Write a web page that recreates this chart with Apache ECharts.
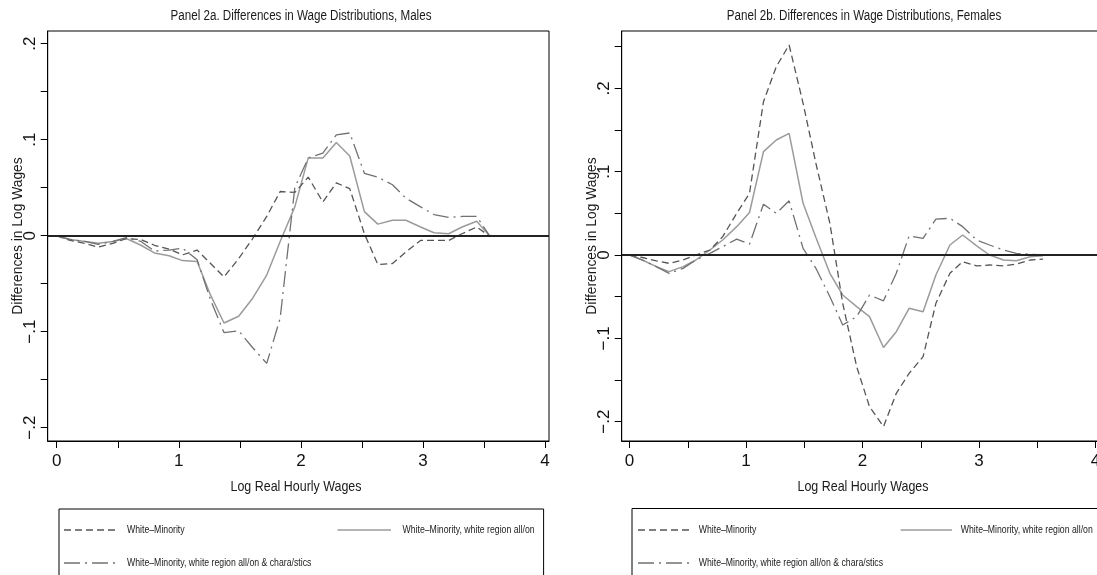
<!DOCTYPE html>
<html><head><meta charset="utf-8">
<script src="https://cdn.jsdelivr.net/npm/echarts@6.0.0/dist/echarts.min.js"></script>
<style>html,body{margin:0;padding:0;background:#fff}#c{width:1097px;height:575px}</style>
</head><body><div id="c"></div>
<script>
// ---- data ----
const xWage = [0.00,0.11,0.23,0.34,0.46,0.57,0.69,0.80,0.92,1.03,1.15,1.26,1.37,1.49,1.60,1.72,1.83,1.95,2.06,2.18,2.29,2.40,2.52,2.63,2.75,2.86,2.98,3.09,3.21,3.32,3.44,3.55];
const maleWhiteMinority = [0,-0.005,-0.008,-0.012,-0.008,-0.003,-0.004,-0.010,-0.014,-0.020,-0.015,-0.029,-0.043,-0.024,-0.004,0.020,0.046,0.045,0.061,0.035,0.055,0.049,0.002,-0.030,-0.029,-0.017,-0.005,-0.005,-0.005,0.002,0.009,-0.001];
const maleRegion = [0,-0.004,-0.006,-0.008,-0.006,-0.003,-0.010,-0.018,-0.021,-0.026,-0.027,-0.062,-0.091,-0.084,-0.066,-0.041,-0.006,0.030,0.081,0.081,0.097,0.083,0.025,0.012,0.016,0.016,0.009,0.003,0.002,0.009,0.015,-0.001];
const maleRegionChar = [0,-0.004,-0.006,-0.009,-0.006,-0.002,-0.006,-0.016,-0.015,-0.013,-0.025,-0.067,-0.101,-0.099,-0.116,-0.133,-0.086,0.050,0.081,0.086,0.105,0.107,0.065,0.061,0.053,0.039,0.030,0.022,0.019,0.020,0.020,-0.001];
const femaleWhiteMinority = [0,-0.003,-0.007,-0.010,-0.006,0.000,0.006,0.022,0.050,0.074,0.184,0.226,0.252,0.182,0.110,0.038,-0.058,-0.134,-0.182,-0.206,-0.166,-0.142,-0.122,-0.058,-0.022,-0.008,-0.013,-0.012,-0.013,-0.011,-0.006,-0.005];
const femaleRegion = [0,-0.006,-0.014,-0.020,-0.014,-0.006,0.006,0.018,0.034,0.051,0.124,0.138,0.146,0.062,0.021,-0.022,-0.048,-0.062,-0.074,-0.111,-0.092,-0.064,-0.068,-0.024,0.012,0.024,0.011,0.000,-0.006,-0.007,-0.002,-0.001];
const femaleRegionChar = [0,-0.006,-0.014,-0.022,-0.016,-0.006,0.002,0.010,0.019,0.013,0.061,0.050,0.065,0.008,-0.016,-0.050,-0.084,-0.074,-0.048,-0.055,-0.022,0.023,0.020,0.043,0.044,0.034,0.018,0.012,0.006,0.002,0.001,0.000];

const seriesNames = ['White\u2013Minority','White\u2013Minority, white region all/on','White\u2013Minority, white region all/on & chara/stics'];
const panelTitles = ['Panel 2a. Differences in Wage Distributions, Males','Panel 2b. Differences in Wage Distributions, Females'];
const xTitle = 'Log Real Hourly Wages';
const yTitle = 'Differences in Log Wages';
const xTickValues = [0,0.5,1,1.5,2,2.5,3,3.5,4];
const xLabelValues = [0,1,2,3,4];
const xLabelTexts = ['0','1','2','3','4'];
const yTickValuesM = [-0.2,-0.15,-0.1,-0.05,0,0.05,0.1,0.15,0.2];
const yTickValuesF = [-0.2,-0.15,-0.1,-0.05,0,0.05,0.1,0.15,0.2,0.25];
const yLabelValues = [-0.2,-0.1,0,0.1,0.2];
const yLabelTexts = ['\u2212.2','\u2212.1','0','.1','.2'];

// ---- chart ----
const FONT = "'Liberation Sans',Arial,Helvetica,sans-serif";
const SQ = 0.83; // horizontal condensing of the reference's narrow type
const lineStyles = [
  {color:'#555555', width:1.3, type:[7,4]},
  {color:'#9b9b9b', width:1.5, type:'solid'},
  {color:'#717171', width:1.3, type:[16,5,2,5]}
];
function pairs(ys){ return xWage.map((x,i)=>[x, ys[i]]); }
function lookup(vals, texts){ return v => { for (let i=0;i<vals.length;i++){ if (Math.abs(vals[i]-v)<1e-6) return texts[i]; } return ''; }; }

const grids = [
  {left:47.7, top:31, width:501.3, height:410, show:true, borderColor:'#000', borderWidth:1, containLabel:false, outerBoundsMode:'none'},
  {left:621.7, top:31, width:477.3, height:410, show:true, borderColor:'#000', borderWidth:1, containLabel:false, outerBoundsMode:'none'}
];
const xRanges = [[-0.074,4.032],[-0.067,4.03]];
const yRanges = [[-0.2139,0.2132],[-0.2232,0.2688]];
const yTicks = [yTickValuesM, yTickValuesF];

const xAxes = [0,1].map(g=>({
  gridIndex:g, type:'value', min:xRanges[g][0], max:xRanges[g][1],
  axisLine:{show:true, onZero:false, lineStyle:{color:'#000', width:1}},
  axisTick:{show:true, length:7, lineStyle:{color:'#000'}, customValues:xTickValues},
  axisLabel:{customValues:xLabelValues, formatter:lookup(xLabelValues,xLabelTexts), fontSize:17, color:'#111', margin:12, fontFamily:FONT, hideOverlap:false},
  splitLine:{show:false}
}));
const yAxes = [0,1].map(g=>({
  gridIndex:g, type:'value', min:yRanges[g][0], max:yRanges[g][1],
  axisLine:{show:true, onZero:false, lineStyle:{color:'#000', width:1}},
  axisTick:{show:true, length:7, lineStyle:{color:'#000'}, customValues:yTicks[g]},
  axisLabel:{customValues:yLabelValues, formatter:lookup(yLabelValues,yLabelTexts), rotate:90, fontSize:17, color:'#111', margin:9, fontFamily:FONT},
  splitLine:{show:false}
}));

const panelData = [[maleWhiteMinority, maleRegion, maleRegionChar],[femaleWhiteMinority, femaleRegion, femaleRegionChar]];
const series = [];
[0,1].forEach(g=>{
  panelData[g].forEach((ys,k)=>{
    const s = {
      name:seriesNames[k], type:'line', xAxisIndex:g, yAxisIndex:g, data:pairs(ys),
      symbol:'none', showSymbol:false, lineStyle:lineStyles[k], itemStyle:{color:lineStyles[k].color},
      animation:false, silent:true, z: k===1 ? 3 : 4
    };
    if (k===0) {
      s.markLine = {silent:true, symbol:['none','none'], label:{show:false}, animation:false,
        lineStyle:{color:'#222', width:2, type:'solid'}, data:[{yAxis:0}]};
    }
    series.push(s);
  });
});

// text helpers (condensed real text)
function txt(str, x, y, size, align, rot, sq){
  return {type:'text', x:x, y:y, rotation:rot||0, scaleX:(sq||SQ), silent:true, z:10,
    style:{text:str, fontSize:size, fontFamily:FONT, fill:'#1a1a1a', align:align, verticalAlign:'middle'}};
}
function legLine(k, x1, x2, y){
  const ls = lineStyles[k];
  return {type:'line', silent:true, z:10, shape:{x1:x1, y1:y, x2:x2, y2:y},
    style:{stroke:ls.color, lineWidth:ls.width, lineDash: Array.isArray(ls.type) ? ls.type : null}};
}
const legendRows = [530, 563];
const legendItems = [
  // [seriesIndex, lineStart, lineEnd, textX, row]
  [0, 64, 118, 127, 0],[1, 337.5, 391, 402.5, 0],[2, 64, 118, 127, 1],
  [0, 638, 690, 698.7, 0],[1, 900.7, 952, 960.7, 0],[2, 638, 690, 698.7, 1]
];
const graphics = [
  txt(panelTitles[0], 301, 16.5, 14, 'center'),
  txt(panelTitles[1], 864, 16.5, 14, 'center'),
  txt(xTitle, 296, 487, 15, 'center'),
  txt(xTitle, 863, 487, 15, 'center'),
  txt(yTitle, 18, 236, 15, 'center', Math.PI/2, 0.92),
  txt(yTitle, 592, 236, 15, 'center', Math.PI/2, 0.92),
  {type:'rect', silent:true, shape:{x:59, y:509, width:484.6, height:80}, style:{fill:'none', stroke:'#000', lineWidth:1}},
  {type:'rect', silent:true, shape:{x:632, y:508.5, width:480, height:80}, style:{fill:'none', stroke:'#000', lineWidth:1}}
];
legendItems.forEach(it=>{
  const y = legendRows[it[4]];
  graphics.push(legLine(it[0], it[1], it[2], y));
  graphics.push(txt(seriesNames[it[0]], it[3], y, 10.5, 'left'));
});

const option = {
  backgroundColor:'#fff',
  animation:false,
  grid:grids, xAxis:xAxes, yAxis:yAxes, series:series,
  graphic:graphics
};
const chart = echarts.init(document.getElementById('c'), null, {renderer:'canvas'});
chart.setOption(option);
</script></body></html>
